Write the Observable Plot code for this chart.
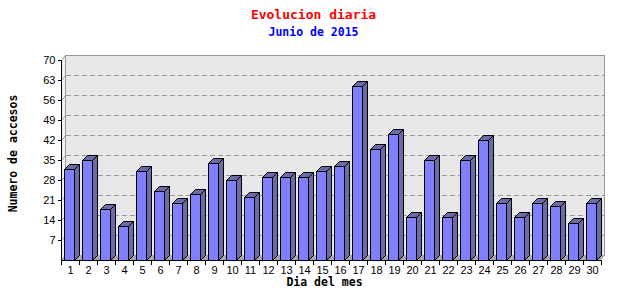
<!DOCTYPE html>
<html><head><meta charset="utf-8">
<script src="https://cdn.jsdelivr.net/npm/d3@7"></script>
<script src="https://cdn.jsdelivr.net/npm/@observablehq/plot@0.6"></script>
<style>body{margin:0;background:#fff}#chart svg{display:block}</style>
</head><body><div id="chart"></div>
<script>
const days = ["1","2","3","4","5","6","7","8","9","10","11","12","13","14","15","16","17","18","19","20","21","22","23","24","25","26","27","28","29","30"];
const visits = [32,35,18,12,31,24,20,23,34,28,22,29,29,29,31,33,61,39,44,15,35,15,35,42,20,15,20,19,13,20];
const yTicks = [7,14,21,28,35,42,49,56,63,70];
const titleText = "Evolucion diaria";
const subtitleText = "Junio de 2015";
const xLabel = "Dia del mes";
const yLabel = "Numero de accesos";

const data = days.map((d, i) => ({day: d, value: visits[i]}));

const FRONT = "#8080ff", SIDE = "#6b6ba8", WALL = "#e8e8e8", FLOOR = "#a8a8a8", GRID = "#999999";
const WDX = 4, WDY = 5;   // wall depth
const BDX = 5, BDY = 5;   // bar depth
const INL = 3, FW = 10;   // front face inset & width

function walls(index, scales, values, dim) {
  const g = d3.create("svg:g");
  const L = dim.marginLeft, R = dim.width - dim.marginRight;
  const T = dim.marginTop, B = dim.height - dim.marginBottom;
  const poly = (pts, fill) => g.append("path")
    .attr("d", "M" + pts.map(p => p.join(",")).join("L") + "Z").attr("fill", fill);
  poly([[L, B], [L, T], [L + WDX, T - WDY], [L + WDX, B - WDY]], "#f2f2f2");
  g.append("rect").attr("x", L + WDX + 0.5).attr("y", T - WDY + 0.5)
    .attr("width", R - L - 1).attr("height", B - T)
    .attr("fill", WALL).attr("stroke", GRID);
  poly([[L, B], [L + WDX, B - WDY], [R + WDX, B - WDY], [R, B]], FLOOR);
  return g.node();
}

function gridLines(index, scales, values, dim) {
  const {y} = scales;
  const g = d3.create("svg:g");
  const L = dim.marginLeft, R = dim.width - dim.marginRight;
  for (const t of yTicks) {
    const yy = Math.round(y(t)) + 0.5;
    g.append("path").attr("d", `M${L + 0.5},${yy}L${L + WDX + 0.5},${yy - WDY}`)
      .attr("fill", "none").attr("stroke", GRID);
    g.append("path").attr("d", `M${L + WDX + 1},${yy - WDY}L${R + WDX},${yy - WDY}`)
      .attr("fill", "none").attr("stroke", GRID).attr("stroke-dasharray", "5,3");
  }
  return g.node();
}

function bars3d(index, scales, values, dim) {
  const {x, y} = scales;
  const g = d3.create("svg:g");
  const y0 = Math.round(y(0)) + 0.5;
  for (const d of data) {
    const x0 = Math.round(x(d.day)) + INL + 0.5;
    const x1 = x0 + FW;
    const yt = Math.round(y(d.value)) + 0.5;
    const top = [[x0, yt], [x0 + BDX, yt - BDY], [x1 + BDX, yt - BDY], [x1, yt]];
    const side = [[x1, yt], [x1 + BDX, yt - BDY], [x1 + BDX, y0 - BDY], [x1, y0]];
    for (const pts of [side, top]) {
      g.append("path").attr("d", "M" + pts.map(p => p.join(",")).join("L") + "Z")
        .attr("fill", SIDE).attr("stroke", "#000");
    }
    g.append("rect").attr("x", x0).attr("y", yt).attr("width", FW).attr("height", y0 - yt)
      .attr("fill", FRONT).attr("stroke", "#000");
  }
  return g.node();
}

function axesLines(index, scales, values, dim) {
  const {x} = scales;
  const g = d3.create("svg:g");
  const L = dim.marginLeft, R = dim.width - dim.marginRight;
  const T = dim.marginTop, B = dim.height - dim.marginBottom;
  g.append("path").attr("d", `M${L + 0.5},${T}L${L + 0.5},${B + 0.5}L${R + 0.5},${B + 0.5}`)
    .attr("fill", "none").attr("stroke", "#000");
  const step = x(days[1]) - x(days[0]);
  const bounds = days.map(d => x(d)).concat([x(days[days.length - 1]) + step]);
  for (const bx of bounds) {
    const xx = Math.round(bx) + 0.5;
    g.append("path").attr("d", `M${xx},${B}L${xx},${B + 5}`).attr("stroke", "#000");
  }
  return g.node();
}

const chart = Plot.plot({
  width: 640,
  height: 300,
  marginLeft: 61,
  marginRight: 39,
  marginTop: 60,
  marginBottom: 40,
  style: {background: "#fff", overflow: "visible"},
  x: {type: "band", domain: days, padding: 0, round: false, axis: null},
  y: {domain: [0, 70], axis: null},
  marks: [
    walls,
    gridLines,
    bars3d,
    axesLines,
    Plot.axisY({ticks: yTicks, tickSize: 3, tickPadding: 3, label: null, fontSize: 11,
      fontFamily: "Liberation Sans", color: "#000"}),
    Plot.axisX({tickSize: 0, tickPadding: 6, label: null, fontSize: 11,
      fontFamily: "Liberation Sans", color: "#000"}),
    Plot.text([titleText], {text: d => d, frameAnchor: "top", dx: -18, dy: -46, lineAnchor: "middle",
      fill: "#ff0000", fontSize: 13, fontWeight: "bold", fontFamily: "DejaVu Sans Mono"}),
    Plot.text([subtitleText], {text: d => d, frameAnchor: "top", dx: -18, dy: -28, lineAnchor: "middle",
      fill: "#0000ff", fontSize: 11.5, fontWeight: "bold", fontFamily: "DejaVu Sans Mono"}),
    Plot.text([xLabel], {text: d => d, frameAnchor: "bottom", dx: -7, dy: 22, lineAnchor: "middle",
      fill: "#000", fontSize: 11.5, fontWeight: "bold", fontFamily: "DejaVu Sans Mono"}),
    Plot.text([yLabel], {text: d => d, frameAnchor: "left", dx: -48, dy: -7, rotate: -90,
      textAnchor: "middle", lineAnchor: "middle",
      fill: "#000", fontSize: 11.5, fontWeight: "bold", fontFamily: "DejaVu Sans Mono"})
  ]
});
document.getElementById("chart").appendChild(chart);
</script>
</body></html>
